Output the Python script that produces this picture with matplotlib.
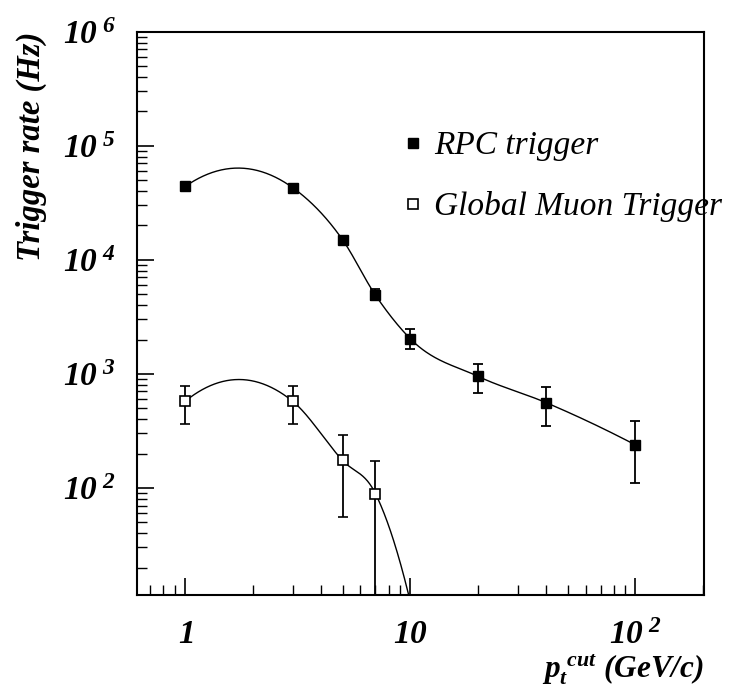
import numpy as np
import matplotlib.pyplot as plt
from matplotlib.ticker import FixedLocator, FixedFormatter, LogLocator, NullFormatter

plt.rcParams['font.family'] = 'Liberation Serif'
plt.rcParams['mathtext.fontset'] = 'custom'
plt.rcParams['mathtext.rm'] = 'Liberation Serif:italic:bold'
plt.rcParams['mathtext.it'] = 'Liberation Serif:italic:bold'
plt.rcParams['mathtext.bf'] = 'Liberation Serif:italic:bold'

# RPC trigger
rpc_pt = [1, 3, 5, 7, 10, 20, 40, 100]
rpc_rate = [44000, 43000, 15000, 4900, 2030, 950, 560, 238]
rpc_lo = [44000, 43000, 15000, 4400, 1640, 680, 350, 111]
rpc_hi = [44000, 43000, 15000, 5500, 2450, 1220, 765, 382]

# Global Muon Trigger
gmt_pt = [1, 3, 5, 7]
gmt_rate = [575, 575, 174, 89]
gmt_lo = [365, 365, 55, 1]
gmt_hi = [785, 785, 290, 172]
# curve continues below the axis after the last point
gmt_tail_pt = [10]
gmt_tail_rate = [10]


def smooth_curve(x, y, xnew):
    # cubic hermite, slopes from the parabola through neighbouring points
    x = np.asarray(x, float)
    y = np.asarray(y, float)
    n = len(x)
    m = np.zeros(n)
    for i in range(n):
        j = min(max(i - 1, 0), n - 3)
        f01 = (y[j + 1] - y[j]) / (x[j + 1] - x[j])
        f12 = (y[j + 2] - y[j + 1]) / (x[j + 2] - x[j + 1])
        f012 = (f12 - f01) / (x[j + 2] - x[j])
        m[i] = f01 + f012 * ((x[i] - x[j]) + (x[i] - x[j + 1]))
    k = np.clip(np.searchsorted(x, xnew) - 1, 0, n - 2)
    h = x[k + 1] - x[k]
    t = (xnew - x[k]) / h
    h00 = 2 * t ** 3 - 3 * t ** 2 + 1
    h10 = t ** 3 - 2 * t ** 2 + t
    h01 = -2 * t ** 3 + 3 * t ** 2
    h11 = t ** 3 - t ** 2
    return h00 * y[k] + h10 * h * m[k] + h01 * y[k + 1] + h11 * h * m[k + 1]


fig = plt.figure(figsize=(7.32, 6.91), dpi=100)
ax = fig.add_axes([0.187, 0.139, 0.775, 0.815])
ax.set_xscale('log')
ax.set_yscale('log')
ax.set_xlim(0.61, 202)
ax.set_ylim(11.5, 1e6)

# smooth curves in log-log space
lx = np.log10(rpc_pt)
xs = np.linspace(lx[0], lx[-1], 500)
ax.plot(10 ** xs, 10 ** smooth_curve(lx, np.log10(rpc_rate), xs), color='black', lw=1.0)

gx = np.log10(gmt_pt + gmt_tail_pt)
gy = np.log10(gmt_rate + gmt_tail_rate)
xs = np.linspace(gx[0], gx[-1], 500)
ax.plot(10 ** xs, 10 ** smooth_curve(gx, gy, xs), color='black', lw=1.0)

r = np.array(rpc_rate)
eb1 = ax.errorbar(rpc_pt, rpc_rate, yerr=[r - np.array(rpc_lo), np.array(rpc_hi) - r],
                  fmt='s', ms=6.5, color='black', mfc='black', ecolor='black',
                  elinewidth=1.3, capsize=3.5, capthick=1.3)
g = np.array(gmt_rate)
eb2 = ax.errorbar(gmt_pt, gmt_rate, yerr=[g - np.array(gmt_lo), np.array(gmt_hi) - g],
                  fmt='s', ms=6.5, color='black', mfc='white', mew=1.2, ecolor='black',
                  elinewidth=1.3, capsize=3.5, capthick=1.3)

for s in ['left', 'bottom', 'top', 'right']:
    ax.spines[s].set_linewidth(1.5)

ax.tick_params(which='both', direction='in', top=False, right=False)
ax.tick_params(which='major', length=12, width=1.2)
ax.tick_params(which='minor', length=7, width=1.0)
ax.yaxis.set_major_locator(FixedLocator([1e2, 1e3, 1e4, 1e5, 1e6]))
ax.yaxis.set_major_formatter(FixedFormatter([r'$10^{\ 2}$', r'$10^{\ 3}$', r'$10^{\ 4}$',
                                             r'$10^{\ 5}$', r'$10^{\ 6}$']))
ax.yaxis.set_minor_locator(LogLocator(base=10, subs=np.arange(2, 10)))
ax.yaxis.set_minor_formatter(NullFormatter())
ax.xaxis.set_major_locator(FixedLocator([1, 10, 100]))
ax.xaxis.set_major_formatter(FixedFormatter([r'$1$', r'$10$', r'$10^{\ 2}$']))
ax.xaxis.set_minor_locator(LogLocator(base=10, subs=np.arange(2, 10)))
ax.xaxis.set_minor_formatter(NullFormatter())
for t in ax.get_xticklabels() + ax.get_yticklabels():
    t.set_fontsize(24)
ax.tick_params(axis='y', pad=15)
ax.tick_params(axis='x', pad=18)

ax.set_ylabel('Trigger rate (Hz)', fontsize=23.5, fontweight='bold', style='italic', loc='top')
ax.yaxis.set_label_coords(-0.158, 1.0)
ax.set_xlabel(r'$p_t^{\ cut}$ (GeV/c)', fontsize=22.5, fontweight='bold', style='italic', loc='right',
              labelpad=1)

ax.legend([eb1.lines[0], eb2.lines[0]], ['RPC trigger', 'Global Muon Trigger'],
          loc='upper left', bbox_to_anchor=(0.445, 0.848), frameon=False,
          prop={'family': 'Liberation Serif', 'style': 'italic', 'size': 24},
          handletextpad=0.35, labelspacing=0.9, handlelength=0.6, borderaxespad=0)

fig.savefig('out.png', dpi=100)
